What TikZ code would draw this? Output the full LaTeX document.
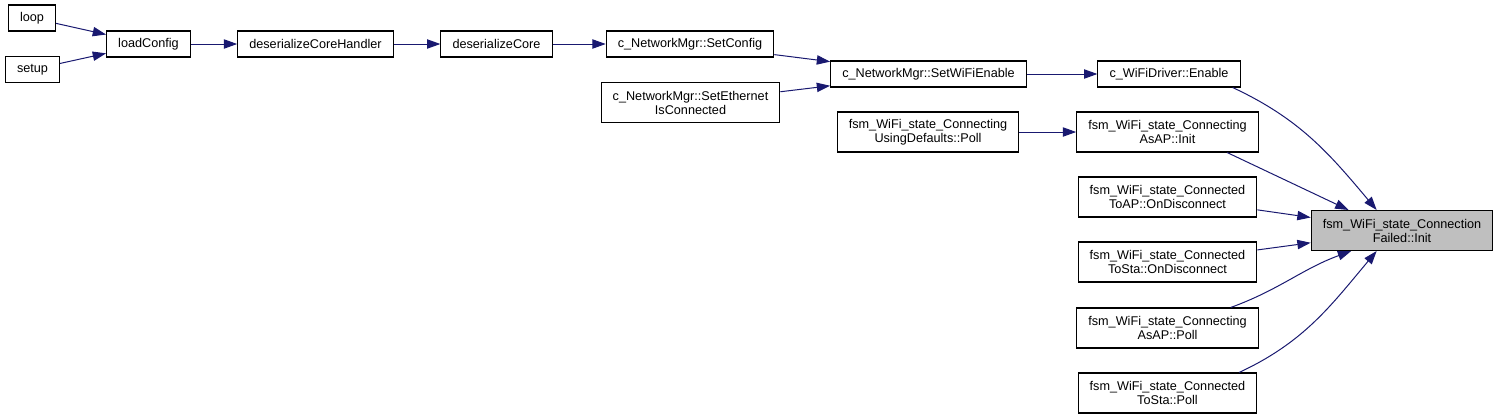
\documentclass[tikz,border=0pt]{standalone}
\usepackage{fontspec}
\setmainfont{Liberation Sans}
\usetikzlibrary{arrows.meta}
\usepackage{xcolor}

\definecolor{callblue}{HTML}{191970}
\definecolor{focusgray}{HTML}{BFBFBF}

\begin{document}
\begin{tikzpicture}[x=0.75pt,y=-0.75pt,>={Triangle[length=10pt,width=7pt]},
  fn/.style={draw=black,line width=0.8pt,rectangle,inner xsep=8.7pt,inner ysep=0pt,
    minimum height=19.5pt,align=center,font=\fontsize{9.5}{10.5}\selectfont},
  fntwo/.style={fn,minimum height=30pt},
  focus/.style={fntwo,fill=focusgray},
  call/.style={->,draw=callblue,line width=0.75pt}]
\useasboundingbox (0,0) rectangle (1500,419);
% callers, left to right
\node[fn] (loop) at (32,18) {loop};
\node[fn] (setup) at (32.5,69.5) {setup};
\node[fn] (loadcfg) at (148.5,44) {loadConfig};
\node[fn] (deshandler) at (315.5,44) {deserializeCoreHandler};
\node[fn] (descore) at (496.5,44) {deserializeCore};
\node[fn] (setconfig) at (690,44) {c\_NetworkMgr::SetConfig};
\node[fntwo] (setether) at (690.5,102.5) {c\_NetworkMgr::SetEthernet\\IsConnected};
\node[fn] (setwifi) at (928.5,74) {c\_NetworkMgr::SetWiFiEnable};
\node[fn] (enable) at (1169,74) {c\_WiFiDriver::Enable};
\node[fntwo] (usedefpoll) at (928,132) {fsm\_WiFi\_state\_Connecting\\UsingDefaults::Poll};
\node[fntwo] (asapinit) at (1167.5,132) {fsm\_WiFi\_state\_Connecting\\AsAP::Init};
\node[fntwo] (toapdisc) at (1167.5,197) {fsm\_WiFi\_state\_Connected\\ToAP::OnDisconnect};
\node[fntwo] (tostadisc) at (1167.5,262) {fsm\_WiFi\_state\_Connected\\ToSta::OnDisconnect};
\node[fntwo] (asappoll) at (1167.5,328) {fsm\_WiFi\_state\_Connecting\\AsAP::Poll};
\node[fntwo] (tostapoll) at (1167.5,393) {fsm\_WiFi\_state\_Connected\\ToSta::Poll};
% the function itself
\node[focus] (failinit) at (1402,230.5) {fsm\_WiFi\_state\_Connection\\Failed::Init};
% calls
\draw[call] (loop) -- (loadcfg);
\draw[call] (setup) -- (loadcfg);
\draw[call] (loadcfg) -- (deshandler);
\draw[call] (deshandler) -- (descore);
\draw[call] (descore) -- (setconfig);
\draw[call] (setconfig) -- (setwifi);
\draw[call] (setether) -- (setwifi);
\draw[call] (setwifi) -- (enable);
\draw[call] (usedefpoll) -- (asapinit);
\draw[call] (enable.-12) to[out=-25,in=130] (failinit.141);
\draw[call] (asapinit.-19) -- (failinit.159);
\draw[call] (toapdisc) -- (failinit);
\draw[call] (tostadisc) -- (failinit);
\draw[call] (asappoll.18) to[out=20,in=200] (failinit.202);
\draw[call] (tostapoll.16) to[out=25,in=230] (failinit.219);
\end{tikzpicture}
\end{document}
